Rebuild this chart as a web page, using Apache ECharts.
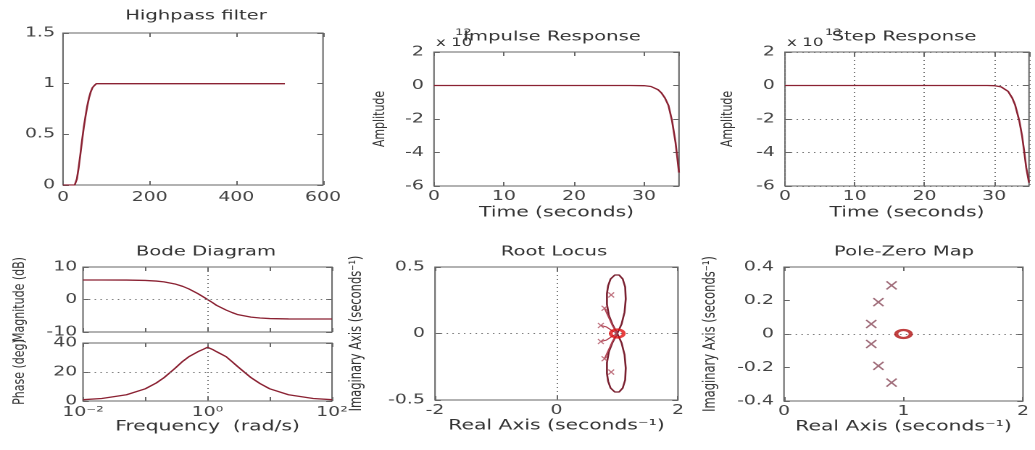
<!DOCTYPE html>
<html><head><meta charset="utf-8">
<script src="https://cdn.jsdelivr.net/npm/echarts@6/dist/echarts.min.js"></script>
<style>
html,body{margin:0;padding:0;background:#fff;overflow:hidden}
#wrap{width:1035px;height:450px;overflow:hidden}
#c{width:714px;height:450px;transform:scaleX(1.449580);transform-origin:0 0}
</style>
</head><body><div id="wrap"><div id="c"></div></div>
<script>
// ---------------- data ----------------
// Highpass filter
const hpX = [0, 10, 20, 27, 32, 36, 40, 44, 48, 52, 56, 60, 64, 68, 72, 77, 100, 200, 300, 400, 512];
const hpY = [0, 0, 0, 0, 0.06, 0.17, 0.30, 0.44, 0.57, 0.68, 0.78, 0.86, 0.92, 0.96, 0.98, 1, 1, 1, 1, 1, 1];
// Impulse response (x 10^12)
const irT = [0, 10, 20, 28, 30, 31, 32, 32.5, 33, 33.5, 34, 34.5, 35];
const irY = [0, 0, 0, 0, -0.01, -0.06, -0.25, -0.45, -0.75, -1.2, -2.1, -3.4, -5.2];
// Step response (x 10^13)
const stT = [0, 10, 20, 29, 30, 31, 32, 32.6, 33, 33.6, 34, 34.3, 34.6, 35];
const stY = [0, 0, 0, 0, -0.01, -0.08, -0.35, -0.75, -1.15, -2.1, -3.0, -3.9, -4.9, -5.8];
// Bode diagram
const bodeW   = [0.01, 0.02, 0.05, 0.1, 0.15, 0.2, 0.3, 0.4, 0.5, 0.7, 0.85, 1, 1.2, 1.4, 2, 2.5, 3, 5, 7, 10, 20, 50, 100];
const magDb   = [6.0, 6.0, 5.98, 5.86, 5.67, 5.42, 4.78, 4.04, 3.27, 1.81, 0.84, 0, -0.94, -1.81, -3.27, -4.04, -4.6, -5.42, -5.7, -5.86, -5.98, -6.0, -6.0];
const phaseDg = [0.9, 1.7, 4.3, 8.4, 12.4, 16.1, 22.5, 27.4, 30.5, 34.0, 35.6, 37.0, 35.6, 34.0, 30.5, 27.0, 24.0, 16.1, 12.0, 8.4, 4.3, 1.7, 0.9];
// Root locus branches
const rlOutUpX = [1.00, 0.92, 0.86, 0.83, 0.83, 0.85, 0.89, 0.96, 1.03, 1.09, 1.13, 1.14, 1.12, 1.07, 1.00];
const rlOutUpY = [0.00, 0.07, 0.14, 0.22, 0.30, 0.36, 0.41, 0.44, 0.44, 0.41, 0.35, 0.26, 0.16, 0.07, 0.00];
const rlOutLoX = [1.00, 0.92, 0.86, 0.83, 0.83, 0.85, 0.89, 0.96, 1.03, 1.09, 1.13, 1.14, 1.12, 1.07, 1.00];
const rlOutLoY = [0.00, -0.07, -0.14, -0.22, -0.30, -0.36, -0.41, -0.44, -0.44, -0.41, -0.35, -0.26, -0.16, -0.07, 0.00];
const rlInAX  = [0.79, 0.85, 0.92, 1.00];
const rlInAY  = [0.19, 0.13, 0.06, 0.00];
const rlInBX  = [0.73, 0.82, 0.92, 1.00];
const rlInBY  = [0.06, 0.05, 0.02, 0.00];
const rlInCX  = [0.73, 0.82, 0.92, 1.00];
const rlInCY  = [-0.06, -0.05, -0.02, 0.00];
const rlInDX  = [0.79, 0.85, 0.92, 1.00];
const rlInDY  = [-0.19, -0.13, -0.06, 0.00];
// Poles and zeros
const poleRe = [0.90, 0.79, 0.73, 0.73, 0.79, 0.90];
const poleIm = [0.29, 0.19, 0.06, -0.06, -0.19, -0.29];
const zeroRe = [1.0];
const zeroIm = [0.0];
// tick labels
const bodeTickLabels = {0.01: '10⁻²', 1: '10⁰', 100: '10²'};

// ---------------- layout / style ----------------
const S = 1035 / 714;
const FONT = 'DejaVu Sans';
const LINE = '#8b2233';
const AX = '#666';
const TXT = '#444';
const zip = (a, b) => a.map((v, i) => [v, b[i]]);

function grid(l, t, w, h) {
  return {left: l / S, top: t, width: w / S, height: h, show: true, borderColor: AX, borderWidth: 1, backgroundColor: 'transparent'};
}
const grids = [
  grid(63, 33, 260, 152),   // 0 highpass
  grid(434, 52, 245, 134),  // 1 impulse
  grid(785, 52, 244, 134),  // 2 step
  grid(83, 267, 249, 65),   // 3 bode mag
  grid(83, 343, 249, 58),   // 4 bode phase
  grid(435, 267, 243, 133), // 5 root locus
  grid(784, 267, 239, 134)  // 6 pole-zero
];

function axis(gi, o) {
  const base = {
    gridIndex: gi, type: 'value',
    axisLine: {show: false, onZero: false},
    axisTick: {show: true, inside: true, length: 4, lineStyle: {color: AX}},
    axisLabel: {color: TXT, fontSize: 13, fontFamily: FONT, margin: 6},
    splitLine: {show: false},
    nameTextStyle: {color: '#333', fontSize: 14, fontFamily: FONT},
    nameLocation: 'middle'
  };
  const r = Object.assign({}, base, o);
  if (o.axisLabel) r.axisLabel = Object.assign({}, base.axisLabel, o.axisLabel);
  if (o.nameTextStyle) r.nameTextStyle = Object.assign({}, base.nameTextStyle, o.nameTextStyle);
  return r;
}
const dotted = {show: true, lineStyle: {type: [1, 3], color: '#777', width: 1}};

const xAxes = [
  axis(0, {min: 0, max: 600, interval: 200, axisLabel: {margin: 6}}),
  axis(1, {min: 0, max: 35, interval: 10, axisLabel: {margin: 4, showMaxLabel: false}, name: 'Time (seconds)', nameGap: 20}),
  axis(2, {min: 0, max: 35, interval: 10, axisLabel: {margin: 4, showMaxLabel: false}, splitLine: dotted, name: 'Time (seconds)', nameGap: 20}),
  axis(3, {type: 'log', logBase: 10, min: 0.01, max: 100, axisLabel: {show: false}}),
  axis(4, {type: 'log', logBase: 10, min: 0.01, max: 100, axisLabel: {margin: 5, formatter: v => bodeTickLabels[v] || ''}, name: 'Frequency  (rad/s)', nameGap: 19}),
  axis(5, {min: -2, max: 2, interval: 2, axisLabel: {margin: 4}, name: 'Real Axis (seconds⁻¹)', nameGap: 19}),
  axis(6, {min: 0, max: 2, interval: 1, axisLabel: {margin: 4}, name: 'Real Axis (seconds⁻¹)', nameGap: 19})
];
const yAxes = [
  axis(0, {min: 0, max: 1.5, interval: 0.5, axisLabel: {margin: 5.5}}),
  axis(1, {min: -6, max: 2, interval: 2, axisLabel: {margin: 7}, name: 'Amplitude', nameGap: 32, nameTextStyle: {fontSize: 11}}),
  axis(2, {min: -6, max: 2, interval: 2, axisLabel: {margin: 7}, splitLine: dotted, name: 'Amplitude', nameGap: 34, nameTextStyle: {fontSize: 11}}),
  axis(3, {min: -10, max: 10, interval: 10, axisLabel: {margin: 4}, name: 'Magnitude (dB)', nameGap: 38, nameTextStyle: {fontSize: 11}}),
  axis(4, {min: 0, max: 40, interval: 20, axisLabel: {margin: 4}, name: 'Phase (deg)', nameGap: 38, nameTextStyle: {fontSize: 11}}),
  axis(5, {min: -0.5, max: 0.5, interval: 0.5, axisLabel: {margin: 7}, name: 'Imaginary Axis (seconds⁻¹)', nameGap: 48, nameTextStyle: {fontSize: 11.5}}),
  axis(6, {min: -0.4, max: 0.4, interval: 0.2, axisLabel: {margin: 7}, name: 'Imaginary Axis (seconds⁻¹)', nameGap: 45, nameTextStyle: {fontSize: 11.5}})
];
// mirrored tick axes (top / right) as in MATLAB boxes
const nX = xAxes.length, nY = yAxes.length;
for (let i = 0; i < nX; i++) {
  const a = xAxes[i];
  xAxes.push({gridIndex: a.gridIndex, type: a.type, logBase: a.logBase, min: a.min, max: a.max, interval: a.interval,
    position: 'top', axisLine: {show: false, onZero: false}, axisLabel: {show: false}, splitLine: {show: false},
    axisTick: {show: true, inside: true, length: 4, lineStyle: {color: AX}}});
}
for (let i = 0; i < nY; i++) {
  const a = yAxes[i];
  yAxes.push({gridIndex: a.gridIndex, type: 'value', min: a.min, max: a.max, interval: a.interval,
    position: 'right', axisLine: {show: false, onZero: false}, axisLabel: {show: false}, splitLine: {show: false},
    axisTick: {show: true, inside: true, length: 4, lineStyle: {color: AX}}});
}

const mline = (data) => ({silent: true, symbol: 'none', label: {show: false}, animation: false,
  lineStyle: {type: [1, 3], color: '#777', width: 1}, data: data});
function lineS(gi, data, extra) {
  return Object.assign({type: 'line', xAxisIndex: gi, yAxisIndex: gi, data: data, showSymbol: false, symbol: 'none',
    lineStyle: {color: LINE, width: 1.3}, animation: false, z: 3}, extra || {});
}
const xSym = 'path://M0,0L10,10M10,0L0,10';

const series = [
  lineS(0, zip(hpX, hpY)),
  lineS(1, zip(irT, irY)),
  lineS(2, zip(stT, stY)),
  lineS(3, zip(bodeW, magDb), {markLine: mline([{xAxis: 1}, {yAxis: 0}])}),
  lineS(4, zip(bodeW, phaseDg), {markLine: mline([{xAxis: 1}, {yAxis: 20}])}),
  lineS(5, zip(rlOutUpX, rlOutUpY), {markLine: mline([{xAxis: 0}, {yAxis: 0}]), lineStyle: {color: '#7a2030', width: 1.3}}),
  lineS(5, zip(rlOutLoX, rlOutLoY), {lineStyle: {color: '#7a2030', width: 1.3}}),
  lineS(5, zip(rlInAX, rlInAY), {lineStyle: {color: '#b04050', width: 1}}),
  lineS(5, zip(rlInBX, rlInBY), {lineStyle: {color: '#b04050', width: 1}}),
  lineS(5, zip(rlInCX, rlInCY), {lineStyle: {color: '#b04050', width: 1}}),
  lineS(5, zip(rlInDX, rlInDY), {lineStyle: {color: '#b04050', width: 1}}),
  {type: 'scatter', xAxisIndex: 5, yAxisIndex: 5, data: zip(poleRe, poleIm), symbol: xSym, symbolSize: [4, 5],
    itemStyle: {color: 'none', borderColor: '#b05060', borderWidth: 1}, animation: false, z: 4},
  {type: 'scatter', xAxisIndex: 5, yAxisIndex: 5, data: zip(zeroRe, zeroIm), symbol: 'circle', symbolSize: [9, 8],
    itemStyle: {color: 'none', borderColor: '#e01010', borderWidth: 2.5}, animation: false, z: 5},
  {type: 'scatter', xAxisIndex: 6, yAxisIndex: 6, data: zip(poleRe, poleIm), symbol: xSym, symbolSize: [7, 8],
    itemStyle: {color: 'none', borderColor: '#8a4a5a', borderWidth: 1.3}, animation: false, z: 4,
    markLine: mline([{yAxis: 0}])},
  {type: 'scatter', xAxisIndex: 6, yAxisIndex: 6, data: zip(zeroRe, zeroIm), symbol: 'circle', symbolSize: [10, 8],
    itemStyle: {color: 'none', borderColor: '#b01010', borderWidth: 2.5}, animation: false, z: 5}
];

function txt(x, y, text, size, align) {
  return {type: 'text', x: x / S, y: y, silent: true, z: 10,
    style: {text: text, fontSize: size, fontFamily: FONT, fill: '#333', align: align || 'center', verticalAlign: 'top'}};
}
const graphic = [
  txt(196, 9, 'Highpass filter', 13.5),
  txt(552, 30, 'Impulse Response', 13.5),
  txt(904, 30, 'Step Response', 13.5),
  txt(206, 245, 'Bode Diagram', 13.5),
  txt(554, 245, 'Root Locus', 13.5),
  txt(904, 245, 'Pole-Zero Map', 13.5),
  txt(436, 37, 'x 10', 11.5, 'left'),
  txt(455, 28, '12', 9, 'left'),
  txt(787, 37, 'x 10', 11.5, 'left'),
  txt(825, 28, '13', 9, 'left')
];

const chart = echarts.init(document.getElementById('c'), null, {devicePixelRatio: 2});
chart.setOption({
  animation: false,
  backgroundColor: '#fff',
  grid: grids,
  xAxis: xAxes,
  yAxis: yAxes,
  series: series,
  graphic: graphic
});
</script>
</body></html>
